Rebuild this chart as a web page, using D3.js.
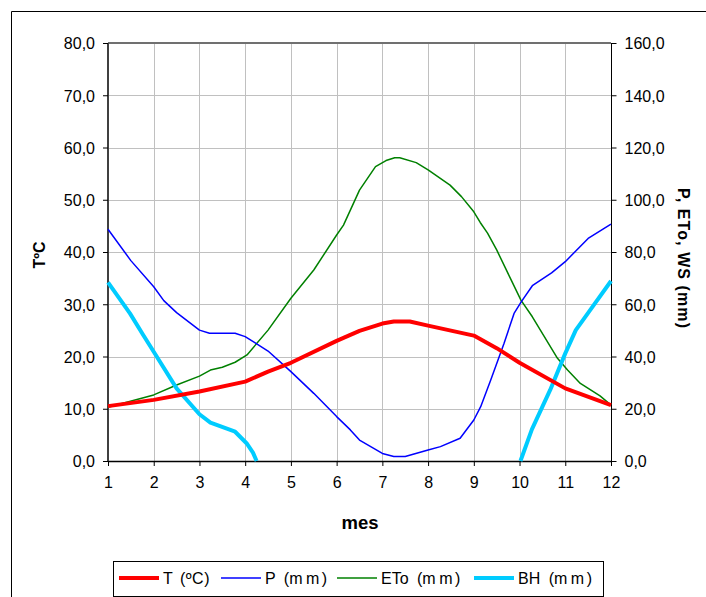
<!DOCTYPE html>
<html><head><meta charset="utf-8">
<script src="https://cdn.jsdelivr.net/npm/d3@7/dist/d3.min.js"></script>
<style>
html,body{margin:0;padding:0;background:#fff;}
svg{display:block;font-family:"Liberation Sans",Arial,sans-serif;}
</style></head>
<body>
<svg id="c" width="706" height="597"></svg>
<script>
// ---- data ----
const monthTicks = [1,2,3,4,5,6,7,8,9,10,11,12];
const leftTicks = [0,10,20,30,40,50,60,70,80];
const rightTicks = [0,20,40,60,80,100,120,140,160];

const tMonths = [1,2,3,4,4.5,5,6,6.5,7,7.25,7.6,8,9,9.5,10,11,12];
const tValues = [10.5,11.7,13.3,15.2,17.1,18.8,23.0,24.9,26.3,26.7,26.7,25.9,24.0,21.6,18.8,13.9,10.7];

const pMonths = [1,1.5,2,2.22,2.5,3,3.22,3.78,4,4.5,5,5.5,6,6.3,6.5,7,7.25,7.5,8,8.27,8.7,9,9.15,9.37,9.66,9.88,10.04,10.28,10.7,11,11.5,12];
const pValues = [88.7,76.7,66.7,61.4,56.8,50.1,48.9,48.9,47.6,42.1,34.2,25.9,17.0,11.9,8.0,2.9,1.7,1.7,4.2,5.5,8.7,15.7,20.8,31.0,45.0,56.5,61.0,67.1,72.0,76.3,85.2,90.7];

const eMonths = [1,2,2.5,3,3.24,3.5,3.78,4.04,4.5,5,5.5,6,6.15,6.5,6.85,7.08,7.27,7.38,7.74,8,8.48,8.73,9,9.14,9.3,9.5,9.8,10.03,10.28,10.83,11.05,11.33,11.76,12];
const eValues = [20.6,25.3,29.1,32.5,34.8,35.9,37.8,40.6,50.1,62.3,73.1,86.5,90.3,103.7,112.7,115.0,116.1,116.1,114.2,111.4,105.6,101.2,95.4,91.3,87.2,80.8,69.9,61.6,55.2,39.3,34.8,29.7,24.9,21.4];

const bMonths = [1,1.48,1.77,2,2.5,3,3.24,3.78,4.03,4.17,4.25,null,10.02,10.27,10.67,11,11.23,11.52,12];
const bValues = [68.4,56.5,48.2,41.8,27.8,17.9,14.7,11.2,6.8,3.2,0,null,0,12.1,27.2,41.2,50.1,57.2,68.9];

const legendNames = ["T","P","ETo","BH"];
const legendUnits = ["(ºC)","(mm)","(mm)","(mm)"];
const seriesColors = ["#ff0000","#0000ff","#008000","#00ccff"];

// ---- layout ----
const svg = d3.select("#c");
const L = 108, R = 611, T = 43, B = 461;
const x = d3.scaleLinear().domain([1,12]).range([L,R]);
const yL = d3.scaleLinear().domain([0,80]).range([B,T]);
const yR = d3.scaleLinear().domain([0,160]).range([B,T]);

// outer frame
svg.append("path").attr("d",`M11.5,597 V11.5 H706`).attr("fill","none").attr("stroke","#000").attr("stroke-width",1);

// grid
const g = svg.append("g");
g.selectAll(".hg").data(leftTicks.filter(d=>d>0&&d<80)).join("line")
  .attr("x1",L).attr("x2",R).attr("y1",d=>Math.round(yL(d))+0.5).attr("y2",d=>Math.round(yL(d))+0.5)
  .attr("stroke","#c0c0c0").attr("stroke-width",1);
g.selectAll(".vg").data(monthTicks.filter(d=>d>1&&d<12)).join("line")
  .attr("x1",d=>Math.round(x(d))+0.5).attr("x2",d=>Math.round(x(d))+0.5).attr("y1",T).attr("y2",B)
  .attr("stroke","#c0c0c0").attr("stroke-width",1);
// top border
svg.append("line").attr("x1",L).attr("x2",R).attr("y1",T).attr("y2",T).attr("stroke","#707070").attr("stroke-width",2);

// axes
const fmt = d=>d3.format(".1f")(d).replace(".",",");
const axL = d3.axisLeft(yL).tickValues(leftTicks).tickSize(5).tickPadding(8).tickFormat(fmt);
const axR = d3.axisRight(yR).tickValues(rightTicks).tickSize(5).tickPadding(8).tickFormat(fmt);
const axB = d3.axisBottom(x).tickValues(monthTicks).tickSize(5).tickPadding(8).tickFormat(d3.format("d"));

function style(sel, col, w){
  sel.select(".domain").attr("stroke",col).attr("stroke-width",w);
  sel.selectAll(".tick line").attr("stroke","#000");
  sel.selectAll("text").attr("font-size",16).attr("fill","#000").attr("font-family","Liberation Sans, Arial, sans-serif");
}
const gB = svg.append("g").attr("transform",`translate(0,${B})`).call(axB); style(gB,"#000",1.5);
gB.select(".domain").attr("d",`M${L},0.5H${R}`);
const gL = svg.append("g").attr("transform",`translate(${L},0)`).call(axL); style(gL,"#404040",2);
gL.select(".domain").attr("d",`M0,${T}V${B}`);
const gR = svg.append("g").attr("transform",`translate(${R+0.5},0)`).call(axR); style(gR,"#000",1);
gR.select(".domain").attr("d",`M0,${T}V${B}`);
gL.selectAll(".tick text").attr("dy","0.36em");
gR.selectAll(".tick text").attr("dy","0.36em");
gB.selectAll(".tick text").attr("dy","0.9em");

// axis titles
svg.append("text").attr("x",360).attr("y",529).attr("text-anchor","middle")
  .attr("font-size",18).attr("font-weight","bold").attr("textLength",37).attr("lengthAdjust","spacingAndGlyphs").text("mes");
svg.append("text").attr("transform","translate(45,255) rotate(-90)").attr("text-anchor","middle")
  .attr("font-size",16).attr("font-weight","bold").text("TºC");
svg.append("text").attr("transform","translate(678,258) rotate(90)").attr("text-anchor","middle")
  .attr("font-size",16).attr("font-weight","bold").attr("textLength",140).attr("lengthAdjust","spacing").text("P, ETo, WS (mm)");

// series
const plot = svg.append("g");
function draw(ms, vs, ys, col, w){
  const data = ms.map((m,i)=>({m, v:vs[i]}));
  const line = d3.line().defined(d=>d.m!==null && d.v!==null).x(d=>x(d.m)).y(d=>ys(d.v));
  plot.append("path").datum(data).attr("d",line).attr("fill","none").attr("stroke",col)
    .attr("stroke-width",w).attr("stroke-linejoin","round").attr("stroke-linecap","butt");
}
draw(eMonths,eValues,yR,seriesColors[2],1.5);
draw(pMonths,pValues,yR,seriesColors[1],1.5);
draw(bMonths,bValues,yR,seriesColors[3],4);
draw(tMonths,tValues,yL,seriesColors[0],4);

// legend
const lg = svg.append("g");
lg.append("rect").attr("x",113.5).attr("y",561.5).attr("width",490).attr("height",35).attr("fill","#fff").attr("stroke","#000").attr("stroke-width",1);
const legX = [119,221,337,474];
const legW = [4,1.5,1.5,4];
legendNames.forEach((lab,i)=>{
  lg.append("line").attr("x1",legX[i]).attr("x2",legX[i]+40).attr("y1",578).attr("y2",578)
    .attr("stroke",seriesColors[i]).attr("stroke-width",legW[i]);
  const t = lg.append("text").attr("x",legX[i]+44).attr("y",584).attr("font-size",16).attr("fill","#000")
    .attr("word-spacing","3px");
  t.append("tspan").text(lab + " ");
  if (i===0) t.append("tspan").attr("letter-spacing","0.5px").text(legendUnits[i]);
  else {
    t.append("tspan").attr("dx",1).text("(");
    t.append("tspan").attr("letter-spacing","3.5px").text("mm");
    t.append("tspan").attr("dx",-1).text(")");
  }
});
</script>
</body></html>
